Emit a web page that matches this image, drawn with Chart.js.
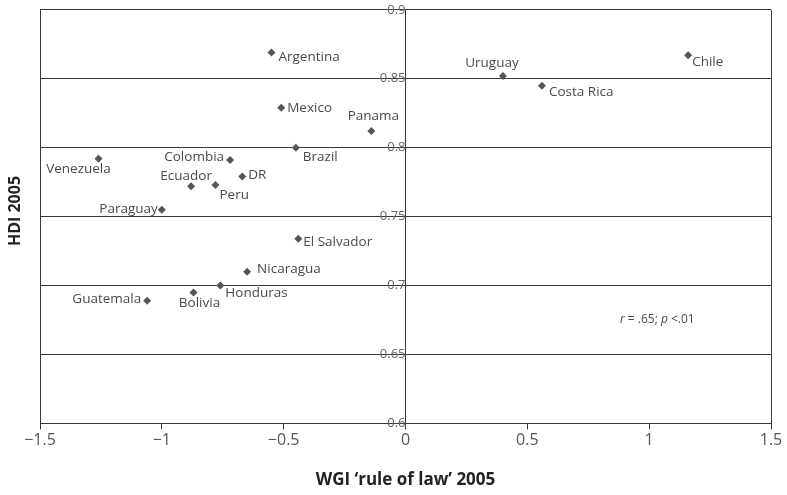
<!DOCTYPE html>
<html>
<head>
<meta charset="utf-8">
<script src="https://cdn.jsdelivr.net/npm/chart.js@4/dist/chart.umd.min.js"></script>
<style>
  html, body { margin: 0; padding: 0; background: #fff; }
  #wrap { width: 787px; height: 495px; }
</style>
</head>
<body>
<div id="wrap"><canvas id="scatter"></canvas></div>
<script>
// Countries, WGI 'rule of law' 2005 (x) and HDI 2005 (y)
const countries = ['Argentina', 'Mexico', 'Panama', 'Brazil', 'Colombia', 'Venezuela', 'DR', 'Ecuador',
    'Peru', 'Paraguay', 'El Salvador', 'Nicaragua', 'Honduras', 'Bolivia', 'Guatemala',
    'Uruguay', 'Costa Rica', 'Chile'];
const ruleOfLaw = [-0.55, -0.51, -0.14, -0.45, -0.72, -1.26, -0.67, -0.88,
    -0.78, -1.00, -0.44, -0.65, -0.76, -0.87, -1.06,
    0.40, 0.56, 1.16];
const hdi = [0.869, 0.829, 0.812, 0.800, 0.791, 0.792, 0.779, 0.772,
    0.773, 0.755, 0.734, 0.710, 0.700, 0.695, 0.689,
    0.852, 0.845, 0.867];
const xTicks = [-1.5, -1, -0.5, 0, 0.5, 1, 1.5];
const yTicks = [0.6, 0.65, 0.7, 0.75, 0.8, 0.85, 0.9];

// label placement around each marker: [dx, dy, align]
const labelPlacement = [
    [7, 5, 'left'], [6, 0, 'left'], [2, -15, 'center'], [7, 9, 'left'], [-6, -3, 'right'],
    [-20, 10, 'center'], [6, -1, 'left'], [-5, -10, 'center'], [4, 10, 'left'], [-4, -1, 'right'],
    [5, 3, 'left'], [10, -3, 'left'], [5, 8, 'left'], [6, 11, 'center'], [-6, -2, 'right'],
    [-11, -13, 'center'], [7, 7, 'left'], [4, 7, 'left']
];

const LINE = '#3a3a3a';
const TEXT = '#4a4a4a';
const FONT = "'Open Sans', sans-serif";

const points = ruleOfLaw.map((x, i) => ({ x: x, y: hdi[i] }));

const labelPlugin = {
    id: 'pointLabels',
    afterDatasetsDraw(chart) {
        const ctx = chart.ctx;
        const meta = chart.getDatasetMeta(0);
        ctx.save();
        ctx.fillStyle = TEXT;
        ctx.font = '13.5px ' + FONT;
        ctx.textBaseline = 'middle';
        meta.data.forEach((pt, i) => {
            const [dx, dy, align] = labelPlacement[i];
            ctx.textAlign = align;
            ctx.fillText(countries[i], pt.x + dx, pt.y + dy);
        });

        // correlation note
        const nx = chart.scales.x.getPixelForValue(0.88);
        const ny = chart.scales.y.getPixelForValue(0.675);
        const parts = [
            ['italic 12px ' + FONT, 'r'], ['12px ' + FONT, ' = .65; '],
            ['italic 12px ' + FONT, 'p'], ['12px ' + FONT, ' <.01']
        ];
        ctx.textAlign = 'left';
        let cx = nx;
        parts.forEach(([f, t]) => {
            ctx.font = f;
            ctx.fillText(t, cx, ny);
            cx += ctx.measureText(t).width;
        });

        // y axis title
        ctx.font = 'bold 16px ' + FONT;
        ctx.fillStyle = '#222';
        ctx.textAlign = 'center';
        ctx.translate(15, 211);
        ctx.rotate(-Math.PI / 2);
        ctx.fillText('HDI 2005', 0, 0);
        ctx.restore();
    }
};

new Chart(document.getElementById('scatter'), {
    type: 'scatter',
    data: {
        datasets: [{
            data: points,
            pointStyle: 'rectRot',
            pointRadius: 4,
            pointHoverRadius: 4,
            backgroundColor: '#555',
            borderColor: '#555',
            borderWidth: 0
        }]
    },
    options: {
        responsive: true,
        maintainAspectRatio: false,
        animation: false,
        layout: { padding: { left: 40, right: 16, top: 9, bottom: 5 } },
        plugins: { legend: { display: false }, tooltip: { enabled: false } },
        scales: {
            x: {
                type: 'linear',
                min: -1.5,
                max: 1.5,
                afterBuildTicks: scale => { scale.ticks = xTicks.map(v => ({ value: v })); },
                border: { color: LINE, width: 1 },
                grid: {
                    color: c => (c.tick && Math.abs(c.tick.value) === 1.5) ? LINE : 'rgba(0,0,0,0)',
                    tickColor: LINE,
                    tickLength: 6,
                    lineWidth: 1
                },
                ticks: {
                    color: '#555',
                    padding: 1,
                    font: { family: FONT, size: 16 },
                    callback: v => String(v).replace('-', '\u2212')
                },
                title: {
                    display: true,
                    text: 'WGI \u2018rule of law\u2019 2005',
                    color: '#222',
                    font: { family: FONT, size: 17, weight: 'bold' },
                    padding: { top: 19, bottom: 0 }
                }
            },
            y: {
                type: 'linear',
                min: 0.6,
                max: 0.9,
                position: { x: 0 },
                afterBuildTicks: scale => { scale.ticks = yTicks.map(v => ({ value: v })); },
                border: { color: LINE, width: 1 },
                grid: { color: LINE, tickColor: LINE, tickLength: 6, lineWidth: 1 },
                ticks: {
                    color: '#666',
                    padding: 2,
                    font: { family: FONT, size: 13 },
                    callback: v => String(parseFloat(v.toFixed(2)))
                }
            }
        }
    },
    plugins: [labelPlugin]
});
</script>
</body>
</html>
